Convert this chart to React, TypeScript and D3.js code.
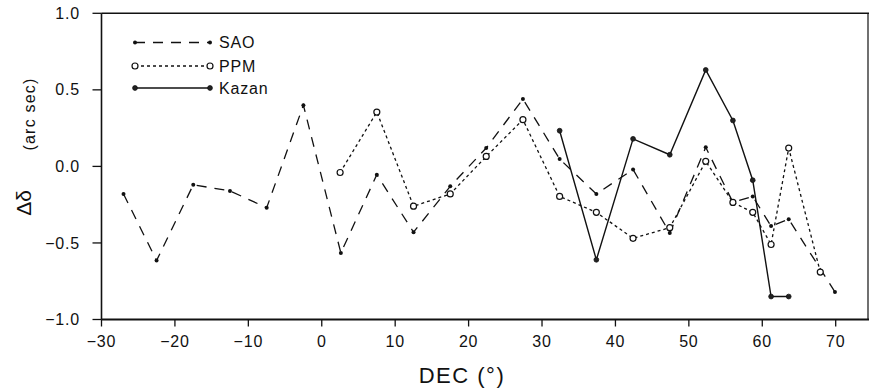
import React from "react";
import * as d3 from "d3";

const saoDec = [-27.0, -22.5, -17.5, -12.5, -7.5, -2.5, 2.6, 7.5, 12.5, 17.5, 22.4, 27.4, 32.4, 37.4, 42.4, 47.4, 52.3, 56.0, 58.7, 61.2, 63.6, 69.9];
const saoVal = [-0.18, -0.615, -0.12, -0.16, -0.27, 0.40, -0.565, -0.054, -0.43, -0.13, 0.12, 0.44, 0.048, -0.18, -0.02, -0.435, 0.125, -0.235, -0.196, -0.39, -0.345, -0.82];

const ppmDec = [2.5, 7.5, 12.5, 17.5, 22.4, 27.4, 32.4, 37.4, 42.4, 47.4, 52.3, 56.0, 58.7, 61.2, 63.6, 67.9];
const ppmVal = [-0.04, 0.355, -0.26, -0.18, 0.065, 0.305, -0.196, -0.30, -0.47, -0.40, 0.033, -0.235, -0.30, -0.51, 0.12, -0.69];

const kazDec = [32.4, 37.4, 42.4, 47.4, 52.3, 56.0, 58.7, 61.2, 63.6];
const kazVal = [0.233, -0.61, 0.18, 0.076, 0.63, 0.30, -0.09, -0.85, -0.85];

const xTicks = [-30, -20, -10, 0, 10, 20, 30, 40, 50, 60, 70];
const yTicks = [1.0, 0.5, 0.0, -0.5, -1.0];

const W = 869, H = 390;
const left = 101.5, right = 868, top = 13.3, bottom = 319.5;

const x = d3.scaleLinear().domain([-30, 74.4]).range([left, right]);
const y = d3.scaleLinear().domain([-1, 1]).range([bottom, top]);

const FONT = "'Liberation Sans', Arial, sans-serif";

type Pt = [number, number];
const zip = (a: number[], b: number[]): Pt[] => a.map((v, i) => [v, b[i]]);

const line = d3.line<Pt>().x(d => x(d[0])).y(d => y(d[1]));

const fmtY = (v: number) => (v < 0 ? "\u2212" : "") + Math.abs(v).toFixed(1);
const fmtX = (v: number) => (v < 0 ? "\u2212" : "") + Math.abs(v).toFixed(0);

export default function App() {
  const sao = zip(saoDec, saoVal);
  const ppm = zip(ppmDec, ppmVal);
  const kaz = zip(kazDec, kazVal);
  const legendX0 = 135, legendX1 = 210;
  const legend = [
    { name: "SAO", y: 42.5, dash: "10,8", kind: "sao" },
    { name: "PPM", y: 66, dash: "3,3", kind: "ppm" },
    { name: "Kazan", y: 88, dash: "none", kind: "kaz" },
  ];
  const marker = (kind: string, cx: number, cy: number, key: string | number) => {
    if (kind === "sao") return <circle key={key} cx={cx} cy={cy} r={2} fill="#111" />;
    if (kind === "ppm") return <circle key={key} cx={cx} cy={cy} r={3} fill="#fff" stroke="#111" strokeWidth={1.2} />;
    return <circle key={key} cx={cx} cy={cy} r={2.4} fill="#222" stroke="#111" strokeWidth={0.8} />;
  };
  return (
    <svg width={W} height={H} style={{ position: "absolute", left: 0, top: 0, background: "#fff" }}>
      {/* frame */}
      <line x1={left} x2={W} y1={top} y2={top} stroke="#111" strokeWidth={1.5} />
      <line x1={right} x2={right} y1={top} y2={bottom} stroke="#111" strokeWidth={1.2} />
      <line x1={left} x2={left} y1={top} y2={bottom} stroke="#111" strokeWidth={1.6} />
      <line x1={left} x2={W} y1={bottom} y2={bottom} stroke="#111" strokeWidth={2.2} />
      {/* y ticks */}
      {yTicks.map(t => (
        <g key={"y" + t}>
          <line x1={left - 9} x2={left} y1={y(t)} y2={y(t)} stroke="#111" strokeWidth={1.3} />
          <text x={80} y={y(t)} dy="0.35em" textAnchor="end" fontFamily={FONT} fontSize={16} letterSpacing={0.8} fill="#111">{fmtY(t)}</text>
        </g>
      ))}
      {/* x ticks */}
      {xTicks.map(t => (
        <g key={"x" + t}>
          <line x1={x(t)} x2={x(t)} y1={bottom} y2={bottom + 7} stroke="#111" strokeWidth={1.3} />
          <text x={x(t)} y={bottom + 22} dy="0.35em" textAnchor="middle" fontFamily={FONT} fontSize={16} letterSpacing={0.8} fill="#111">{fmtX(t)}</text>
        </g>
      ))}
      {/* axis titles */}
      <text x={462} y={375} dy="0.35em" textAnchor="middle" fontFamily={FONT} fontSize={22} letterSpacing={1.5} fill="#111">DEC  (°)</text>
      <text transform="translate(29,114) rotate(-90)" dy="0.35em" textAnchor="middle" fontFamily={FONT} fontSize={16} letterSpacing={1.2} fill="#111">(arc  sec)</text>
      <text transform="translate(24,203) rotate(-90)" dy="0.35em" textAnchor="middle" fontFamily={FONT} fontSize={21} fill="#111">Δδ</text>
      {/* series */}
      <path d={line(sao) || ""} fill="none" stroke="#111" strokeWidth={1.3} strokeDasharray="10,8" />
      <path d={line(ppm) || ""} fill="none" stroke="#111" strokeWidth={1.3} strokeDasharray="3,3" />
      <path d={line(kaz) || ""} fill="none" stroke="#111" strokeWidth={1.4} />
      {sao.map((d, i) => marker("sao", x(d[0]), y(d[1]), "s" + i))}
      {ppm.map((d, i) => marker("ppm", x(d[0]), y(d[1]), "p" + i))}
      {kaz.map((d, i) => marker("kaz", x(d[0]), y(d[1]), "k" + i))}
      {/* legend */}
      {legend.map(l => (
        <g key={l.name}>
          <line x1={legendX0} x2={legendX1} y1={l.y} y2={l.y} stroke="#111" strokeWidth={1.3} strokeDasharray={l.dash} />
          {marker(l.kind, legendX0, l.y, "a")}
          {marker(l.kind, legendX1, l.y, "b")}
          <text x={219} y={l.y} dy="0.35em" fontFamily={FONT} fontSize={16} letterSpacing={0.8} fill="#111">{l.name}</text>
        </g>
      ))}
    </svg>
  );
}
